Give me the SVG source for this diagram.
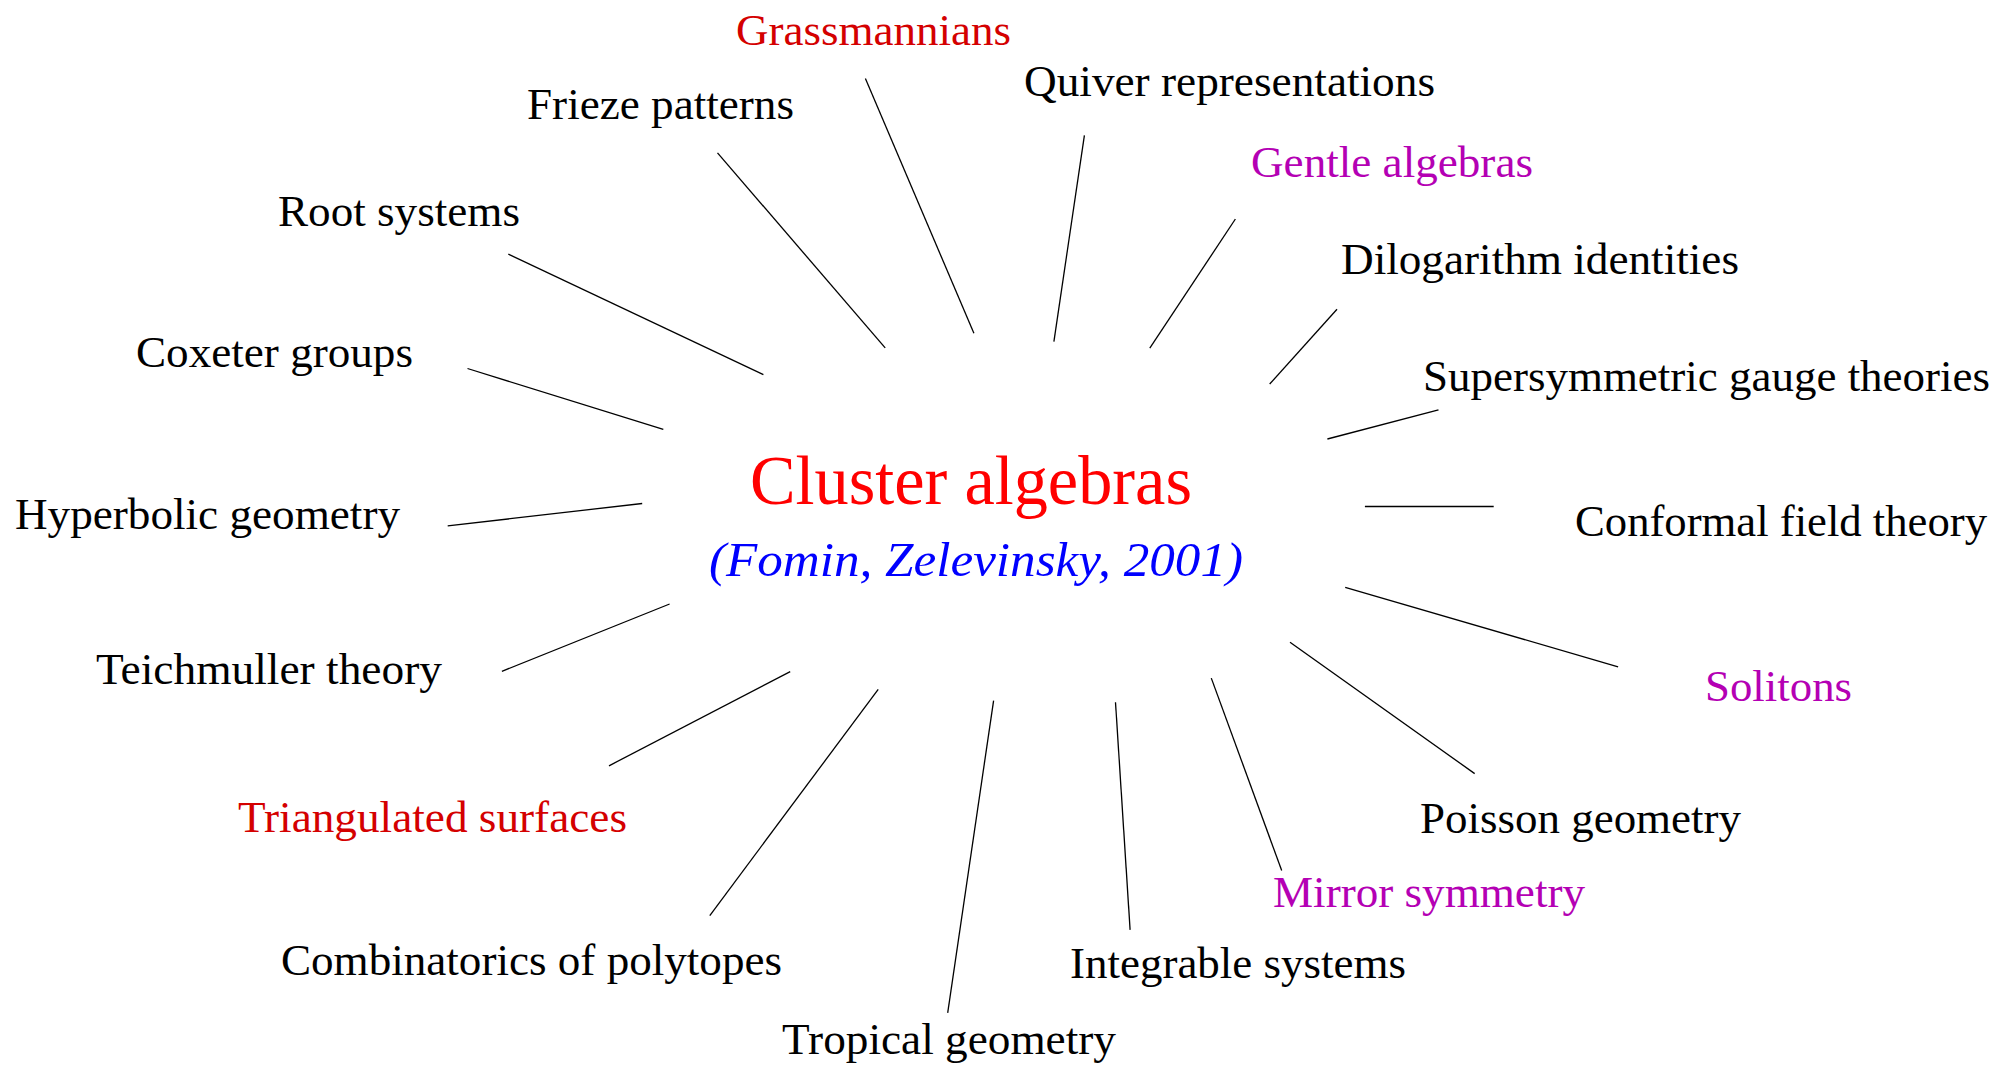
<svg xmlns="http://www.w3.org/2000/svg" width="1995" height="1065" viewBox="0 0 1995 1065">
<style>
text{font-family:"Liberation Serif","Times New Roman",serif;font-size:45px;fill:#000}
.red{fill:#d40000}
.mag{fill:#b400b4}
.title{fill:#ff0000;font-size:69px}
.sub{fill:#0000ff;font-style:italic;font-size:48px}
.conn line{stroke:#000;stroke-width:1.3;fill:none}
</style>
<rect width="1995" height="1065" fill="#fff"/>
<g id="connectors" class="conn">
<line x1="865.4" y1="78.5" x2="973.9" y2="333.3"/>
<line x1="717.5" y1="152.9" x2="885.2" y2="347.8"/>
<line x1="1084.4" y1="135.3" x2="1053.9" y2="341.6"/>
<line x1="1235.4" y1="219" x2="1149.8" y2="348.2"/>
<line x1="508.3" y1="254.1" x2="763.4" y2="374.7"/>
<line x1="1337" y1="309.2" x2="1269.7" y2="384"/>
<line x1="467.5" y1="368.5" x2="663.3" y2="429.4"/>
<line x1="1438.5" y1="409.8" x2="1327.4" y2="439"/>
<line x1="447.7" y1="525.9" x2="642.2" y2="503.5"/>
<line x1="1364.9" y1="506.5" x2="1493.7" y2="506.5"/>
<line x1="501.9" y1="671.3" x2="669.6" y2="604"/>
<line x1="1345.2" y1="587.3" x2="1618.1" y2="666.8"/>
<line x1="609" y1="765.8" x2="790.2" y2="671.6"/>
<line x1="1290" y1="642.3" x2="1474.7" y2="773.6"/>
<line x1="709.8" y1="915.6" x2="878.2" y2="689.3"/>
<line x1="1211.3" y1="678.1" x2="1281.7" y2="870.5"/>
<line x1="947.7" y1="1012.8" x2="993.6" y2="700.6"/>
<line x1="1115.5" y1="702.3" x2="1130.1" y2="929.9"/>
</g>
<g id="center">
<text class="title" x="750" y="503.5" textLength="442" lengthAdjust="spacingAndGlyphs">Cluster algebras</text>
<text class="sub" x="709" y="576" textLength="534" lengthAdjust="spacingAndGlyphs">(Fomin, Zelevinsky, 2001)</text>
</g>
<g id="grassmannians"><text class="red" x="736" y="44.8" textLength="275" lengthAdjust="spacingAndGlyphs">Grassmannians</text></g>
<g id="frieze"><text x="527" y="118.8" textLength="267" lengthAdjust="spacingAndGlyphs">Frieze patterns</text></g>
<g id="quiver"><text x="1024" y="95.7" textLength="411" lengthAdjust="spacingAndGlyphs">Quiver representations</text></g>
<g id="gentle"><text class="mag" x="1251" y="177.3" textLength="282" lengthAdjust="spacingAndGlyphs">Gentle algebras</text></g>
<g id="root"><text x="278" y="226" textLength="242" lengthAdjust="spacingAndGlyphs">Root systems</text></g>
<g id="dilog"><text x="1341" y="273.8" textLength="398" lengthAdjust="spacingAndGlyphs">Dilogarithm identities</text></g>
<g id="coxeter"><text x="136" y="367.4" textLength="277" lengthAdjust="spacingAndGlyphs">Coxeter groups</text></g>
<g id="susy"><text x="1423" y="390.8" textLength="567" lengthAdjust="spacingAndGlyphs">Supersymmetric gauge theories</text></g>
<g id="hyperbolic"><text x="15" y="528.6" textLength="385" lengthAdjust="spacingAndGlyphs">Hyperbolic geometry</text></g>
<g id="conformal"><text x="1575" y="536" textLength="412" lengthAdjust="spacingAndGlyphs">Conformal field theory</text></g>
<g id="teichmuller"><text x="96" y="684.2" textLength="346" lengthAdjust="spacingAndGlyphs">Teichmuller theory</text></g>
<g id="solitons"><text class="mag" x="1705" y="700.6" textLength="147" lengthAdjust="spacingAndGlyphs">Solitons</text></g>
<g id="triangulated"><text class="red" x="238" y="832" textLength="389" lengthAdjust="spacingAndGlyphs">Triangulated surfaces</text></g>
<g id="poisson"><text x="1420" y="833" textLength="321" lengthAdjust="spacingAndGlyphs">Poisson geometry</text></g>
<g id="mirror"><text class="mag" x="1273" y="907" textLength="312" lengthAdjust="spacingAndGlyphs">Mirror symmetry</text></g>
<g id="combinatorics"><text x="281" y="974.6" textLength="501" lengthAdjust="spacingAndGlyphs">Combinatorics of polytopes</text></g>
<g id="integrable"><text x="1070" y="977.6" textLength="336" lengthAdjust="spacingAndGlyphs">Integrable systems</text></g>
<g id="tropical"><text x="782" y="1053.7" textLength="334" lengthAdjust="spacingAndGlyphs">Tropical geometry</text></g>
</svg>
